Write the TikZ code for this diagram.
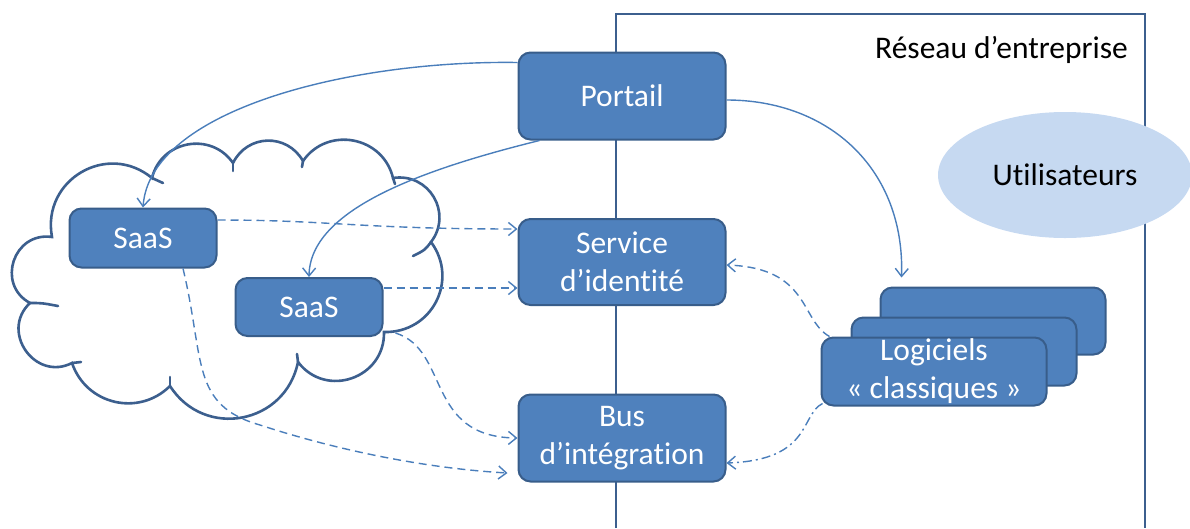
\documentclass[tikz,border=0pt]{standalone}
\usepackage{fontspec}
\setmainfont{Carlito}[Ligatures=CommonOff]
\usetikzlibrary{arrows.meta,shapes.geometric}

\definecolor{nodefill}{HTML}{4F81BD}
\definecolor{nodeedge}{HTML}{385D8A}
\definecolor{linkblue}{HTML}{4A7EBB}
\definecolor{frameblue}{HTML}{3C5F8E}
\definecolor{userfill}{HTML}{C6D9F1}

\newcommand{\diagfont}{\fontsize{31.5}{38}\selectfont}

\tikzset{
  box/.style={draw=nodeedge, fill=nodefill, line width=2pt, rounded corners=12pt,
              text=white, font=\diagfont, align=center, inner sep=0pt},
  link/.style={draw=linkblue, line width=1.4pt, -{Straight Barb[length=8pt,width=13pt]}},
  dlink/.style={link, dash pattern=on 8pt off 5pt},
  dotlink/.style={link, dash pattern=on 9pt off 4pt on 2pt off 4pt},
  frameline/.style={draw=frameblue, line width=2.5pt},
  cloudline/.style={draw=frameblue, line width=2.6pt, line cap=round, line join=miter},
}

\begin{document}
\begin{tikzpicture}[x=1pt,y=-1pt]
\useasboundingbox (0,0) rectangle (1190,528);

% enterprise network boundary
\draw[frameline] (616,528) -- (616,14) -- (1145,14) -- (1145,528);
\node[anchor=base east, inner sep=0pt, font=\diagfont] (reseau) at (1128,58) {Réseau d’entreprise};

% users
\node[ellipse, fill=userfill, minimum width=254pt, minimum height=126pt, inner sep=0pt,
      font=\diagfont] (users) at (1065,175) {Utilisateurs};

% the cloud (external SaaS providers)
\draw[cloudline, fill=white]
  (152,178) to[bend left=66, looseness=1.2]  (233,163)
            to[bend left=62, looseness=1.18] (303,161)
            to[bend left=66, looseness=1.2]  (393,178)
            to[bend left=68, looseness=1.25] (431,242)
            to[bend left=64, looseness=1.2]  (384,332)
            to[bend left=72, looseness=1.3]  (298,362)
            to[bend left=68, looseness=1.25] (170,386)
            to[bend left=58, looseness=1.12] (72,363)
            to[bend left=82, looseness=1.45] (30,303)
            to[bend left=80, looseness=1.43] (52,237)
            to[bend left=70, looseness=1.28] (152,178) -- cycle;
% inner puff marks
\draw[cloudline] (152,178) -- (163,183);
\draw[cloudline] (233,163) -- (233,171);
\draw[cloudline] (303,161) -- (302,167);
\draw[cloudline] (393,178) -- (395,184);
\draw[cloudline] (431,242) .. controls (425,250) .. (413,256);
\draw[cloudline] (298,362) -- (297,354);
\draw[cloudline] (170,386) -- (170,377);
\draw[cloudline] (72,363) -- (81,362);
\draw[cloudline] (30,303) .. controls (42,303) .. (58,306);

% components
\node[box, minimum width=207pt, minimum height=87pt] (portail) at (622,96) {Portail};
\node[box, minimum width=207pt, minimum height=86pt] (service) at (622,262) {Service\\d’identité};
\node[box, minimum width=207pt, minimum height=87pt] (bus) at (622,438) {Bus\\d’intégration};
\node[box, minimum width=147pt, minimum height=59pt] (saasa) at (143,238) {SaaS};
\node[box, minimum width=147pt, minimum height=58pt] (saasb) at (309,307) {SaaS};
\node[box, minimum width=225pt, minimum height=67pt] (logback) at (993,321) {};
\node[box, minimum width=225pt, minimum height=68pt] (logmid) at (964,351.5) {};
\node[box, minimum width=225pt, minimum height=68pt] (logfront) at (934,371.5) {Logiciels\\«~classiques~»};

% portal links
\draw[link] ([yshift=-11pt]portail.north west) .. controls (350,60) and (150,110) .. (saasa.north);
\draw[link] ([xshift=22pt]portail.south west) .. controls (420,170) and (310,210) .. (saasb.north);
\draw[link] ([yshift=-4pt]portail.east) .. controls (830,100) and (905,170) .. ([shift={(22pt,9pt)}]logback.north west);

% identity links
\draw[dlink] ([yshift=18pt]saasa.east) .. controls (330,220) and (360,229) .. ([yshift=33pt]service.west);
\draw[dlink] ([yshift=19pt]saasb.east) -- ([yshift=-26pt]service.west);
\draw[dlink] ([xshift=9pt]logfront.north west) .. controls (800,320) and (810,268) .. ([yshift=-3pt]service.east);

% integration links
\draw[dlink] ([shift={(12pt,4pt)}]saasb.south east) .. controls (450,350) and (425,437) .. (bus.west);
\draw[dlink] ([xshift=40pt]saasa.south) .. controls (205,360) and (190,405) .. (260,425)
             .. controls (330,448) and (420,468) .. ([shift={(-10pt,-35pt)}]bus.west);
\draw[dotlink] ([shift={(2pt,3pt)}]logfront.south west) .. controls (800,415) and (812,460) .. ([yshift=-25pt]bus.east);
\end{tikzpicture}
\end{document}
